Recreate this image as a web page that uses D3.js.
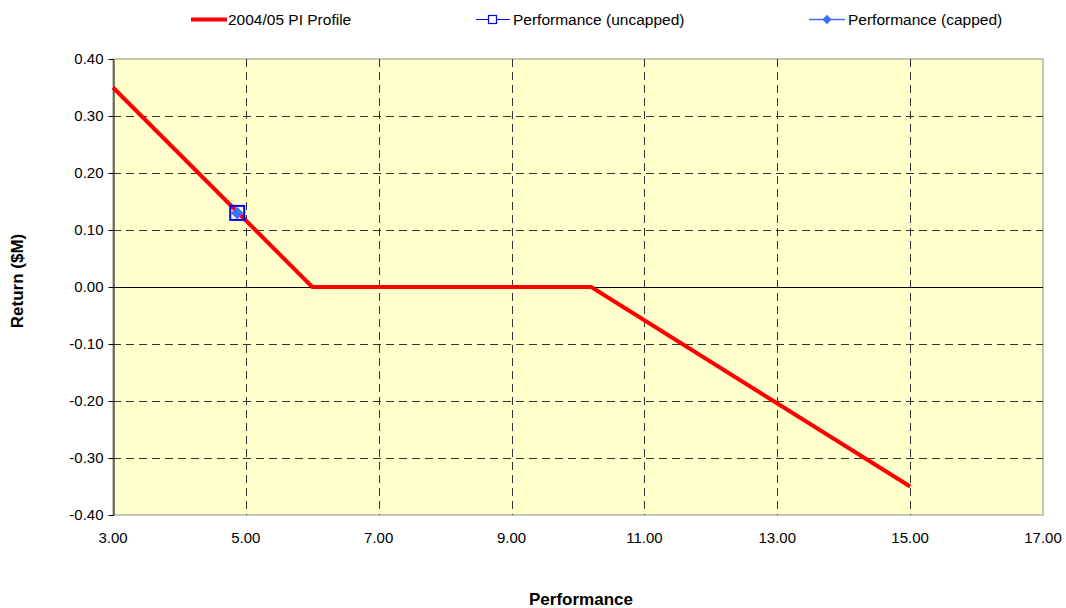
<!DOCTYPE html>
<html>
<head>
<meta charset="utf-8">
<script src="https://cdn.jsdelivr.net/npm/d3@7"></script>
<style>
  body { margin: 0; background: #fff; }
  text { font-family: "Liberation Sans", Arial, sans-serif; }
</style>
</head>
<body>
<div id="chart"></div>
<script>
// data
var profileX = [3, 6, 10.2, 15];
var profileY = [0.35, 0, 0, -0.35];
var uncappedX = [4.87];
var uncappedY = [0.13];
var cappedX = [4.87];
var cappedY = [0.13];
var xTicks = [3, 5, 7, 9, 11, 13, 15, 17];
var yTicks = [0.4, 0.3, 0.2, 0.1, 0, -0.1, -0.2, -0.3, -0.4];
var legendNames = ["2004/05 PI Profile", "Performance (uncapped)", "Performance (capped)"];

var W = 1066, H = 608;
var margin = {top: 59, right: 23, bottom: 93, left: 113};
var width = W - margin.left - margin.right,
    height = H - margin.top - margin.bottom;

var fmt = function(d) { return d.toFixed(2); };

var svg = d3.select("#chart").append("svg")
    .attr("width", W).attr("height", H);

var g = svg.append("g")
    .attr("transform", "translate(" + margin.left + "," + margin.top + ")");

var x = d3.scaleLinear().domain([3, 17]).range([0, width]);
var y = d3.scaleLinear().domain([-0.4, 0.4]).range([height, 0]);

// plot area
g.append("rect")
    .attr("width", width).attr("height", height)
    .attr("fill", "#ffffcc").attr("stroke", "#8c8c8c").attr("stroke-width", 1);

// gridlines
g.selectAll(".hgrid").data(yTicks.filter(function(d) { return d !== 0 && Math.abs(d) < 0.4; }))
  .enter().append("line")
    .attr("x1", 0).attr("x2", width)
    .attr("y1", function(d) { return Math.round(y(d)) + 0.5; })
    .attr("y2", function(d) { return Math.round(y(d)) + 0.5; })
    .attr("stroke", "#333").attr("stroke-dasharray", "8,5");

g.selectAll(".vgrid").data(xTicks.filter(function(d) { return d > 3 && d < 17; }))
  .enter().append("line")
    .attr("y1", 0).attr("y2", height)
    .attr("x1", function(d) { return Math.round(x(d)) + 0.5; })
    .attr("x2", function(d) { return Math.round(x(d)) + 0.5; })
    .attr("stroke", "#333").attr("stroke-dasharray", "8,5");

// zero line (x axis)
g.append("line")
    .attr("x1", 0).attr("x2", width)
    .attr("y1", Math.round(y(0)) + 0.5).attr("y2", Math.round(y(0)) + 0.5)
    .attr("stroke", "#000");

// y axis
var yAxis = d3.axisLeft(y).tickValues(yTicks).tickFormat(fmt).tickSize(5).tickSizeOuter(0);
var ya = g.append("g").attr("transform", "translate(0.5,0)").call(yAxis);
ya.select(".domain").attr("stroke", "#000");
ya.selectAll("text").style("font-size", "15px").attr("x", -10).attr("fill", "#000")
    .style("font-family", "'Liberation Sans', Arial, sans-serif");

// x tick labels
g.selectAll(".xlab").data(xTicks).enter().append("text")
    .attr("x", function(d) { return x(d); })
    .attr("y", height + 28)
    .attr("text-anchor", "middle")
    .style("font-size", "15px")
    .text(fmt);

// axis titles
svg.append("text")
    .attr("x", 581).attr("y", 605)
    .attr("text-anchor", "middle")
    .style("font-size", "17px").style("font-weight", "bold")
    .text("Performance");

svg.append("text")
    .attr("transform", "translate(23,281) rotate(-90)")
    .attr("text-anchor", "middle")
    .style("font-size", "17px").style("font-weight", "bold")
    .text("Return ($M)");

// profile line
var profile = profileX.map(function(d, i) { return [d, profileY[i]]; });
g.append("path")
    .datum(profile)
    .attr("fill", "none").attr("stroke", "#ff0000").attr("stroke-width", 4)
    .attr("d", d3.line().x(function(d) { return x(d[0]); }).y(function(d) { return y(d[1]); }));

// uncapped markers (hollow square)
g.selectAll(".unc").data(uncappedX).enter().append("rect")
    .attr("x", function(d) { return x(d) - 7; })
    .attr("y", function(d, i) { return y(uncappedY[i]) - 7; })
    .attr("width", 14).attr("height", 14)
    .attr("fill", "none").attr("stroke", "#0000ff").attr("stroke-width", 2);

// capped markers (diamond)
var diamond = d3.symbol().type(d3.symbolDiamond2).size(100);
g.selectAll(".cap").data(cappedX).enter().append("path")
    .attr("d", diamond)
    .attr("transform", function(d, i) { return "translate(" + x(d) + "," + y(cappedY[i]) + ")"; })
    .attr("fill", "#3f6fff");

// legend
var leg = svg.append("g");
leg.append("line").attr("x1", 191).attr("x2", 227).attr("y1", 19.5).attr("y2", 19.5)
    .attr("stroke", "#ff0000").attr("stroke-width", 4);
leg.append("text").attr("x", 228).attr("y", 25).style("font-size", "15.5px").text(legendNames[0]);

leg.append("line").attr("x1", 476).attr("x2", 510).attr("y1", 19.5).attr("y2", 19.5)
    .attr("stroke", "#0000ff").attr("stroke-width", 1);
leg.append("rect").attr("x", 488.5).attr("y", 15.5).attr("width", 8).attr("height", 8)
    .attr("fill", "#fff").attr("stroke", "#0000ff").attr("stroke-width", 1.2);
leg.append("text").attr("x", 513).attr("y", 25).style("font-size", "15.5px").text(legendNames[1]);

leg.append("line").attr("x1", 809).attr("x2", 845).attr("y1", 19.5).attr("y2", 19.5)
    .attr("stroke", "#3f6fff").attr("stroke-width", 1.5);
leg.append("path").attr("d", d3.symbol().type(d3.symbolDiamond2).size(55))
    .attr("transform", "translate(827,19.5)").attr("fill", "#3f6fff");
leg.append("text").attr("x", 848).attr("y", 25).style("font-size", "15.5px").text(legendNames[2]);
</script>
</body>
</html>
